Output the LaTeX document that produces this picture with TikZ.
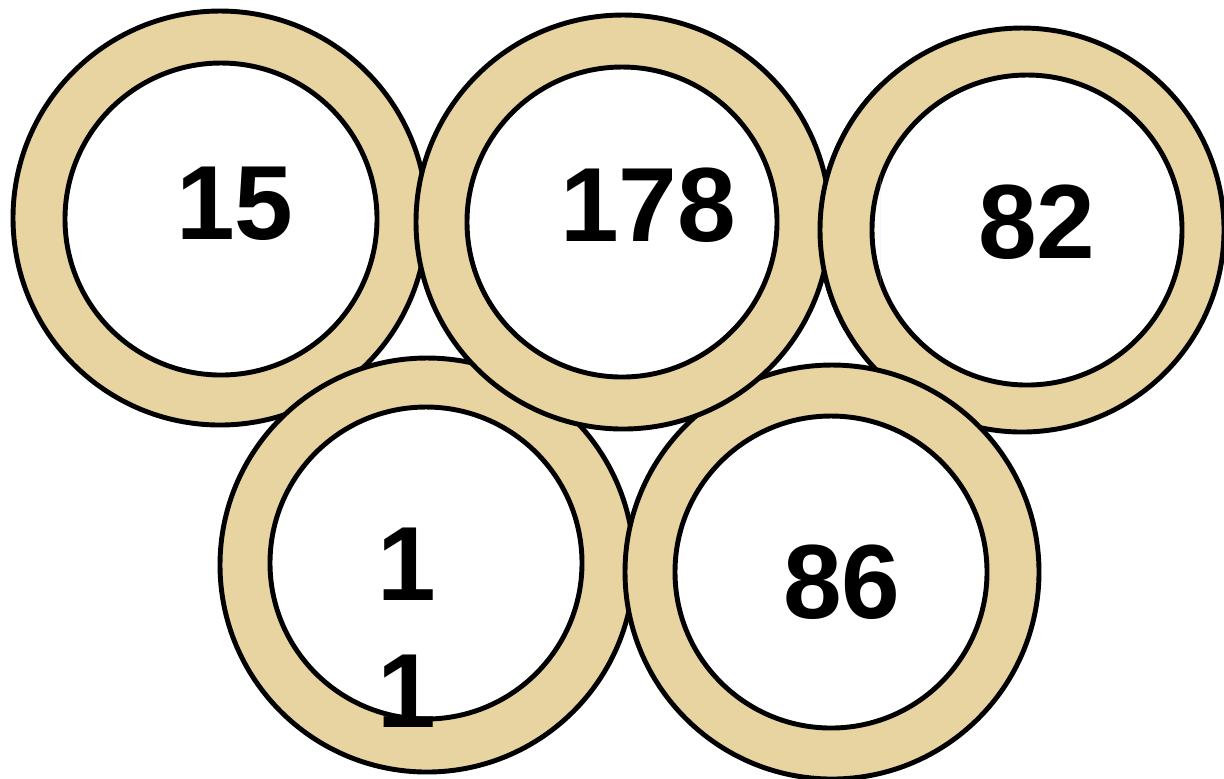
\documentclass[tikz,border=0pt]{standalone}
\usepackage{xcolor}
\usepackage{fontspec}
\setmainfont{Liberation Sans}
\usepackage{tikz}
\definecolor{ringtan}{HTML}{E8D4A0}
\definecolor{ringline}{HTML}{000000}

\begin{document}
\begin{tikzpicture}[
    x=1cm,y=-1cm,
    band/.style={draw=ringline, line width=1.4pt, fill=ringtan},
    hole/.style={draw=ringline, line width=1.4pt, fill=white},
    num/.style={font=\fontsize{30}{36.1}\selectfont\bfseries, text=black, align=center, inner sep=0pt}
  ]
    \useasboundingbox (0,0) rectangle (12.24,7.78);

    \coordinate (ra) at (2.20,2.18);
    \coordinate (rb) at (6.23,2.22);
    \coordinate (rc) at (10.22,2.30);
    \coordinate (rd) at (4.27,5.65);
    \coordinate (re) at (8.32,5.72);

    \draw[band] (ra) circle (2.07);
    \draw[hole] (2.21,2.19) circle (1.56);
    \draw[band] (rd) circle (2.07);
    \draw[hole] (4.26,5.63) circle (1.56);
    \draw[band] (rc) circle (2.02);
    \draw[hole] (10.27,2.30) circle (1.55);
    \draw[band] (re) circle (2.07);
    \draw[hole] (8.31,5.72) circle (1.56);
    \draw[band] (rb) circle (2.07);
    \draw[hole] (6.22,2.22) circle (1.55);
    \begin{scope}
      \clip (7.8,0) rectangle (8.8,3.3);
      \draw[band] (rc) circle (2.02);
      \draw[hole] (10.27,2.30) circle (1.55);
    \end{scope}

    \node[num] (n15) at (2.35,2.04) {15};
    \node[num] (n178) at (6.48,2.05) {178};
    \node[num] (n82) at (10.37,2.22) {82};
    \node[num] (n11) at (4.07,6.28) {1\\1};
    \node[num] (n86) at (8.42,5.82) {86};
  \end{tikzpicture}
\end{document}
